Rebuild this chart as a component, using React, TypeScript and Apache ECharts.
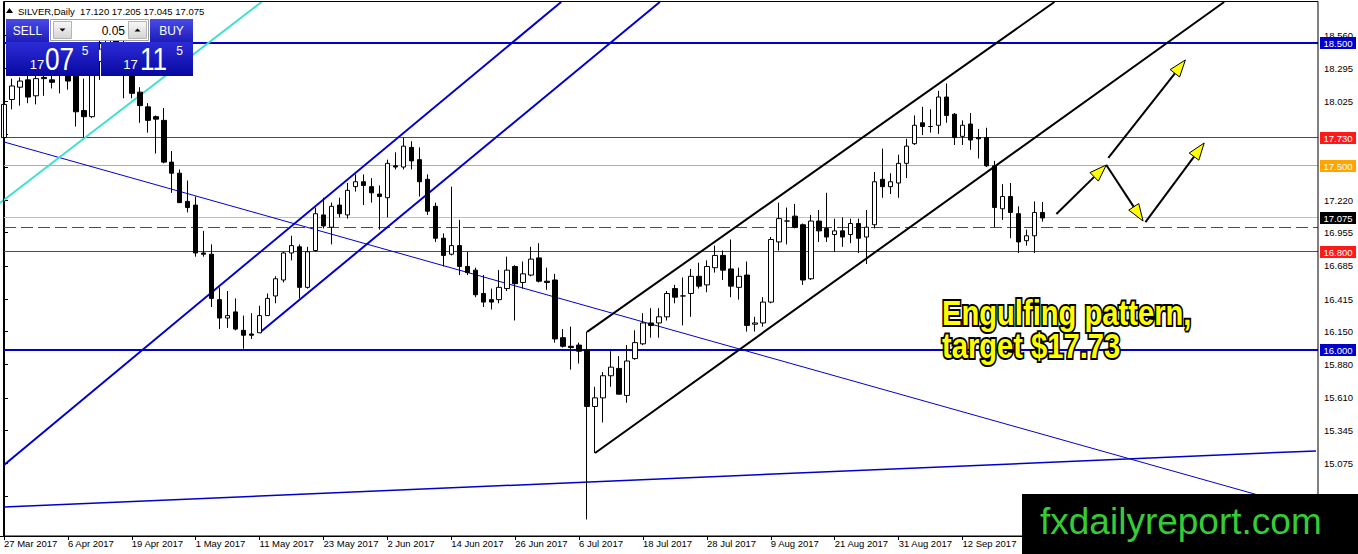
import * as echarts from "echarts";
import { useEffect, useRef } from "react";

const FONT = "'Liberation Sans', Arial, sans-serif";

// date labels, one every 8 daily bars starting at bar 0
const dateLabels = [
  "27 Mar 2017", "6 Apr 2017", "19 Apr 2017", "1 May 2017", "11 May 2017", "23 May 2017",
  "2 Jun 2017", "14 Jun 2017", "26 Jun 2017", "6 Jul 2017", "18 Jul 2017", "28 Jul 2017",
  "9 Aug 2017", "21 Aug 2017", "31 Aug 2017", "12 Sep 2017"
];

const opens = [
  17.73, 18.04, 18.14, 18.2, 18.07, 18.22, 18.2, 18.3, 18.24, 18.23,
  17.95, 17.9, 18.35, 18.45, 18.6, 18.5, 18.33, 18.1, 17.98, 17.9,
  17.87, 17.53, 17.44, 17.21, 17.18, 16.79, 16.78, 16.41, 16.26, 16.31,
  16.16, 16.13, 16.14, 16.28, 16.44, 16.57, 16.79, 16.84, 16.51, 16.81,
  17.1, 17.0, 17.18, 17.1, 17.33, 17.37, 17.33, 17.27, 17.24, 17.5,
  17.49, 17.65, 17.55, 17.39, 17.17, 16.91, 16.78, 16.85, 16.68, 16.65,
  16.46, 16.41, 16.41, 16.5, 16.68, 16.55, 16.61, 16.75, 16.56, 16.57,
  16.1, 16.03, 16.04, 16.0, 15.54, 15.61, 15.79, 15.85, 15.63, 15.93,
  16.05, 16.22, 16.22, 16.27, 16.5, 16.44, 16.46, 16.6, 16.53, 16.67,
  16.77, 16.66, 16.51, 16.61, 16.21, 16.22, 16.39, 16.88, 17.05, 17.09,
  17.02, 16.58, 17.05, 16.99, 16.94, 16.97, 16.94, 17.03, 16.92, 17.02,
  17.39, 17.33, 17.36, 17.52, 17.68, 17.85, 17.82, 17.83, 18.06, 17.92,
  17.74, 17.84, 17.73, 17.73, 17.5, 17.15, 17.25, 17.11, 16.89, 16.93,
  17.12
];

const highs = [
  18.05, 18.21, 18.22, 18.26, 18.27, 18.27, 18.27, 18.36, 18.31, 18.3,
  18.21, 18.42, 18.52, 18.66, 18.68, 18.6, 18.38, 18.14, 18.01, 17.91,
  17.97, 17.62, 17.47, 17.38, 17.25, 16.97, 16.86, 16.51, 16.48, 16.42,
  16.28, 16.3, 16.36, 16.46, 16.6, 16.8, 16.93, 16.86, 16.84, 17.16,
  17.24, 17.2, 17.24, 17.36, 17.43, 17.43, 17.4, 17.34, 17.55, 17.61,
  17.73, 17.7, 17.65, 17.43, 17.2, 16.95, 17.33, 17.06, 16.8, 16.67,
  16.61, 16.5, 16.65, 16.76, 16.69, 16.72, 16.84, 16.87, 16.67, 16.62,
  16.17, 16.19, 16.06, 16.15, 15.7, 15.82, 15.99, 15.95, 16.04, 16.16,
  16.3, 16.34, 16.34, 16.48, 16.53, 16.59, 16.66, 16.71, 16.73, 16.85,
  16.81, 16.9, 16.67, 16.72, 16.27, 16.43, 16.92, 17.2, 17.16, 17.19,
  17.03, 17.1, 17.14, 17.28, 17.07, 17.08, 17.07, 17.07, 17.14, 17.45,
  17.64, 17.44, 17.59, 17.72, 17.91, 17.98, 17.96, 18.11, 18.17, 17.93,
  17.87, 17.93, 17.8, 17.81, 17.54, 17.35, 17.36, 17.17, 16.98, 17.21,
  17.205
];

const lows = [
  17.72, 17.96, 17.99, 18.01, 18.0, 18.07, 18.13, 18.09, 18.12, 17.82,
  17.73, 17.89, 18.2, 18.4, 18.42, 18.05, 18.05, 17.85, 17.77, 17.6,
  17.52, 17.28, 17.2, 17.12, 16.76, 16.76, 16.35, 16.17, 16.18, 16.16,
  16.01, 16.09, 16.14, 16.28, 16.38, 16.55, 16.73, 16.42, 16.5, 16.8,
  16.99, 16.86, 17.08, 17.07, 17.29, 17.18, 17.2, 16.98, 17.08, 17.47,
  17.47, 17.47, 17.25, 17.1, 16.88, 16.68, 16.77, 16.61, 16.61, 16.43,
  16.35, 16.33, 16.38, 16.48, 16.24, 16.5, 16.6, 16.55, 16.49, 16.06,
  16.02, 15.84, 15.89, 14.62, 15.16, 15.41, 15.7, 15.64, 15.57, 15.92,
  16.04, 16.1, 16.1, 16.24, 16.38, 16.2, 16.27, 16.5, 16.47, 16.63,
  16.57, 16.43, 16.41, 16.15, 16.15, 16.19, 16.38, 16.81, 16.86, 16.99,
  16.53, 16.57, 16.88, 16.88, 16.8, 16.84, 16.87, 16.79, 16.7, 16.99,
  17.24, 17.27, 17.24, 17.4, 17.67, 17.75, 17.77, 17.76, 17.85, 17.67,
  17.67, 17.63, 17.56, 17.49, 17.0, 17.06, 16.91, 16.79, 16.85, 16.79,
  17.045
];

const closes = [
  18.0, 18.15, 18.19, 18.06, 18.21, 18.21, 18.18, 18.26, 18.19, 17.94,
  17.9, 18.35, 18.45, 18.6, 18.5, 18.35, 18.09, 17.99, 17.87, 17.88,
  17.53, 17.44, 17.2, 17.16, 16.79, 16.78, 16.42, 16.26, 16.28, 16.17,
  16.12, 16.12, 16.28, 16.42, 16.58, 16.79, 16.85, 16.51, 16.8, 17.11,
  17.01, 17.17, 17.11, 17.3, 17.37, 17.34, 17.28, 17.25, 17.52, 17.49,
  17.66, 17.54, 17.37, 17.13, 16.91, 16.77, 16.85, 16.68, 16.63, 16.45,
  16.39, 16.39, 16.51, 16.65, 16.54, 16.62, 16.74, 16.56, 16.55, 16.09,
  16.03, 16.02, 15.99, 15.54, 15.61, 15.79, 15.86, 15.64, 15.91, 16.06,
  16.22, 16.2, 16.27, 16.46, 16.43, 16.44, 16.6, 16.52, 16.68, 16.77,
  16.65, 16.52, 16.6, 16.2, 16.22, 16.39, 16.9, 17.07, 17.05, 17.0,
  16.57, 17.05, 16.97, 16.92, 16.97, 16.92, 17.03, 16.91, 17.0, 17.37,
  17.33, 17.37, 17.52, 17.66, 17.83, 17.82, 17.82, 18.06, 17.91, 17.73,
  17.83, 17.71, 17.72, 17.5, 17.16, 17.25, 17.12, 16.88, 16.93, 17.12,
  17.075
];

const askPrice = 17.115;
const lotSize = "0.05";

// price-axis grid of the terminal; 17.760 and 17.490 sit under the level tags
const priceTicks = [
  18.56, 18.295, 18.025, 17.76, 17.49, 17.22, 16.955, 16.685, 16.415, 16.15,
  15.88, 15.61, 15.345, 15.075, 14.805
];
const priceLabels = [
  18.56, 18.295, 18.025, 17.22, 16.955, 16.685, 16.415, 16.15,
  15.88, 15.61, 15.345, 15.075, 14.805
];

// horizontal levels: 18.5, 17.73, 17.5, bid, 17.00 (dashed), 16.8, 16.0
const levelPrices = [18.5, 17.73, 17.5, 17.075, 17.0, 16.8, 16.0];

// trend lines as [bar index, price] pairs
const cyanLine = [[-0.5, 17.197], [32.25, 18.834]];
const channelTop = [[0, 15.064], [69.75, 18.834]];
const channelBottom = [[32, 16.14], [82.1, 18.834]];
const longDownLine = [[0, 17.694], [157, 14.819]];
const flatBottomLine = [[0, 14.722], [164.25, 15.178]];
const riseUpper = [[73, 16.147], [131.5, 18.834]];
const riseLower = [[74, 15.161], [152.75, 18.834]];

// projected path arrows: [start, tip]
const arrowPaths = [
  [[131.75, 17.108], [138, 17.507]],
  [[138, 17.507], [142.6, 17.05]],
  [[138.25, 17.564], [147.9, 18.362]],
  [[142.9, 17.042], [150.25, 17.686]]
];

const CATEGORY_COUNT = 165;
const categories = Array.from({ length: CATEGORY_COUNT }, (_, i) => String(i));

const levelStyles = [
  { line: "#0000c8", width: 2, box: "#0000c8", dashed: false },
  { line: "#ff0000", width: 1, box: "#ff1a1a", dashed: false },
  { line: "#ffa500", width: 1, box: "#ffa500", dashed: false },
  { line: "#c0c0c0", width: 1, box: "#000000", dashed: false },
  { line: "#ff0000", width: 1, box: null, dashed: true },
  { line: "#ff0000", width: 1, box: "#ff1a1a", dashed: false },
  { line: "#0000c8", width: 2, box: "#0000c8", dashed: false }
];

function trendSeries(points: number[][], color: string, width: number) {
  return {
    type: "line",
    xAxisIndex: 1,
    yAxisIndex: 0,
    data: points,
    symbol: "none",
    silent: true,
    clip: true,
    z: 2,
    lineStyle: { color, width }
  };
}

function gradient(top: string, bottom: string) {
  return new echarts.graphic.LinearGradient(0, 0, 0, 1, [
    { offset: 0, color: top },
    { offset: 1, color: bottom }
  ]);
}

function text(content: string, x: number, y: number, font: string, fill: string, align = "center", extra: any = {}) {
  return {
    type: "text",
    x,
    y,
    silent: true,
    z: 60,
    ...extra,
    style: {
      text: content,
      x: 0,
      y: 0,
      font,
      fill,
      align,
      textAlign: align,
      verticalAlign: "middle",
      textVerticalAlign: "middle",
      ...(extra.style || {})
    }
  };
}

function buildGraphics(chart: echarts.ECharts) {
  const last = closes.length - 1;
  const fmt = (v: number) => v.toFixed(3);
  const bid = fmt(closes[last]);
  const ask = fmt(askPrice);
  const toPx = (pt: number[]) => chart.convertToPixel({ xAxisIndex: 1, yAxisIndex: 0 }, pt) as number[];
  const els: any[] = [];

  // chart frame
  els.push({
    type: "rect",
    silent: true,
    z: 40,
    shape: { x: 3.5, y: 1.5, width: 1314.5, height: 534.5 },
    style: { fill: "none", stroke: "#000", lineWidth: 1 }
  });

  // horizontal levels, snapped to whole pixels so the thin ones stay crisp
  levelPrices.forEach((p, k) => {
    const s = levelStyles[k];
    const py = toPx([0, p])[1];
    const y = s.width % 2 === 1 ? Math.floor(py) + 0.5 : Math.round(py);
    els.push({
      type: "line",
      silent: true,
      z: 2,
      shape: { x1: 4, y1: y, x2: 1318, y2: y },
      style: { stroke: s.line, lineWidth: s.width, lineDash: s.dashed ? [12, 5] : null }
    });
    if (s.box) {
      els.push({
        type: "rect",
        silent: true,
        z: 50,
        shape: { x: 1320, y: Math.round(py) - 6, width: 36, height: 12 },
        style: { fill: s.box }
      });
      els.push(text(fmt(p), 1338, Math.round(py) + 0.5, `9.5px ${FONT}`, "#fff", "center", { z: 51 }));
    }
  });

  // header
  els.push({ type: "polygon", silent: true, z: 60, shape: { points: [[6, 13], [9.5, 8], [13, 13]] }, style: { fill: "#000" } });
  els.push(
    text(
      `SILVER,Daily  ${fmt(opens[last])} ${fmt(highs[last])} ${fmt(lows[last])} ${fmt(closes[last])}`,
      18, 11, `9.5px ${FONT}`, "#000", "left"
    )
  );

  // one-click trading panel
  els.push({ type: "rect", silent: true, z: 58, shape: { x: 6, y: 19, width: 43, height: 23 }, style: { fill: gradient("#4a4aea", "#1c1cb8") } });
  els.push({ type: "rect", silent: true, z: 58, shape: { x: 150, y: 19, width: 43, height: 23 }, style: { fill: gradient("#4a4aea", "#1c1cb8") } });
  els.push(text("SELL", 27.5, 30.5, `12px ${FONT}`, "#fff"));
  els.push(text("BUY", 171.5, 30.5, `12px ${FONT}`, "#fff"));
  els.push({ type: "rect", silent: true, z: 58, shape: { x: 50.5, y: 19.5, width: 98, height: 21 }, style: { fill: "#fff", stroke: "#a0a0a0", lineWidth: 1 } });
  els.push({ type: "rect", silent: true, z: 59, shape: { x: 53.5, y: 21.5, width: 18, height: 17 }, style: { fill: gradient("#f8f8f8", "#d4d4d4"), stroke: "#b4b4b4", lineWidth: 1 } });
  els.push({ type: "rect", silent: true, z: 59, shape: { x: 128.5, y: 21.5, width: 18, height: 17 }, style: { fill: gradient("#f8f8f8", "#d4d4d4"), stroke: "#b4b4b4", lineWidth: 1 } });
  els.push({ type: "polygon", silent: true, z: 60, shape: { points: [[59.5, 28.5], [65.5, 28.5], [62.5, 31.5]] }, style: { fill: "#000" } });
  els.push({ type: "polygon", silent: true, z: 60, shape: { points: [[134.5, 31.5], [140.5, 31.5], [137.5, 28.5]] }, style: { fill: "#000" } });
  els.push(text(lotSize, 125, 30.5, `12px ${FONT}`, "#000", "right"));

  els.push({ type: "rect", silent: true, z: 58, shape: { x: 6, y: 42, width: 93, height: 34 }, style: { fill: gradient("#2c2cd8", "#0808a0") } });
  els.push({ type: "rect", silent: true, z: 58, shape: { x: 101, y: 42, width: 92, height: 34 }, style: { fill: gradient("#2c2cd8", "#0808a0") } });

  els.push(text(bid.slice(0, 2), 37, 64, `13px ${FONT}`, "#fff"));
  els.push(text(bid.slice(3, 5), 59.5, 59, `32px ${FONT}`, "#fff", "center", { scaleX: 0.82 }));
  els.push(text(bid.slice(5), 85, 51, `12px ${FONT}`, "#fff"));
  els.push(text(ask.slice(0, 2), 130.5, 64, `13px ${FONT}`, "#fff"));
  els.push(text(ask.slice(3, 5), 153.5, 59, `32px ${FONT}`, "#fff", "center", { scaleX: 0.82 }));
  els.push(text(ask.slice(5), 179.5, 51, `12px ${FONT}`, "#fff"));

  // annotation
  const noteStyle = { style: { stroke: "#000", lineWidth: 4 }, scaleX: 0.81 };
  els.push(text("Engulfing pattern,", 942, 312, `bold 36px ${FONT}`, "#ffff00", "left", noteStyle));
  els.push(text("target $17.73", 942, 345, `bold 36px ${FONT}`, "#ffff00", "left", noteStyle));

  // arrows
  arrowPaths.forEach(([from, to]) => {
    const s = toPx(from);
    const t = toPx(to);
    const dx = t[0] - s[0];
    const dy = t[1] - s[1];
    const len = Math.hypot(dx, dy);
    const ux = dx / len;
    const uy = dy / len;
    const head = 17;
    const half = 6;
    const bx = t[0] - ux * head;
    const by = t[1] - uy * head;
    els.push({
      type: "line",
      silent: true,
      z: 60,
      shape: { x1: s[0], y1: s[1], x2: bx, y2: by },
      style: { stroke: "#000", lineWidth: 2 }
    });
    els.push({
      type: "polygon",
      silent: true,
      z: 61,
      shape: { points: [[t[0], t[1]], [bx - uy * half, by + ux * half], [bx + uy * half, by - ux * half]] },
      style: { fill: "#ffff00", stroke: "#000", lineWidth: 1 }
    });
  });

  // watermark
  els.push({ type: "rect", silent: true, z: 100, shape: { x: 1022, y: 494, width: 336, height: 60 }, style: { fill: "#000" } });
  els.push(text("fxdailyreport.com", 1040, 521, `37px ${FONT}`, "#35cc35", "left", { z: 101 }));

  return els;
}

export default function App() {
  const ref = useRef<HTMLDivElement | null>(null);

  useEffect(() => {
    if (!ref.current) {
      return;
    }
    const chart = echarts.init(ref.current, undefined, { renderer: "svg" });
    const candles = opens.map((o, i) => [o, closes[i], lows[i], highs[i]]);

    chart.setOption({
      animation: false,
      backgroundColor: "#ffffff",
      grid: { left: 0, right: 40, top: 2, bottom: 18, containLabel: false },
      xAxis: [
        {
          type: "category",
          data: categories,
          boundaryGap: true,
          axisLine: { show: true, lineStyle: { color: "#000", width: 1 } },
          axisTick: { show: true, alignWithLabel: true, interval: 7, length: 4, lineStyle: { color: "#000" } },
          axisLabel: {
            interval: 7,
            align: "left",
            margin: 2,
            fontSize: 9.5,
            fontFamily: FONT,
            color: "#000",
            formatter: (_: string, index: number) => (index % 8 === 0 ? dateLabels[index / 8] ?? "" : "")
          },
          splitLine: { show: false }
        },
        { type: "value", min: -0.5, max: CATEGORY_COUNT - 0.5, show: false }
      ],
      yAxis: {
        type: "value",
        position: "right",
        min: 14.485,
        max: 18.834,
        axisLine: { show: true, lineStyle: { color: "#000", width: 1 } },
        axisTick: { show: true, length: 4, customValues: priceTicks, lineStyle: { color: "#000" } },
        axisLabel: {
          customValues: priceLabels,
          margin: 6,
          fontSize: 9.5,
          fontFamily: FONT,
          color: "#000",
          formatter: (v: number) => v.toFixed(3)
        },
        splitLine: { show: false }
      },
      series: [
        trendSeries(longDownLine, "#0000cd", 1),
        trendSeries(flatBottomLine, "#0000cd", 1.5),
        trendSeries(cyanLine, "#40e0d0", 2),
        trendSeries(channelTop, "#0000cd", 2),
        trendSeries(channelBottom, "#0000cd", 2),
        trendSeries(riseUpper, "#000000", 2),
        trendSeries(riseLower, "#000000", 2),
        {
          type: "candlestick",
          xAxisIndex: 0,
          yAxisIndex: 0,
          data: candles,
          barWidth: 5,
          z: 3,
          itemStyle: {
            color: "#ffffff",
            color0: "#000000",
            borderColor: "#000000",
            borderColor0: "#000000",
            borderColorDoji: "#000000",
            borderWidth: 1
          }
        }
      ]
    });

    chart.setOption({ graphic: buildGraphics(chart) });

    return () => {
      chart.dispose();
    };
  }, []);

  return (
    <div
      ref={ref}
      style={{ position: "fixed", left: 0, top: 0, width: 1358, height: 554, background: "#fff" }}
    />
  );
}
